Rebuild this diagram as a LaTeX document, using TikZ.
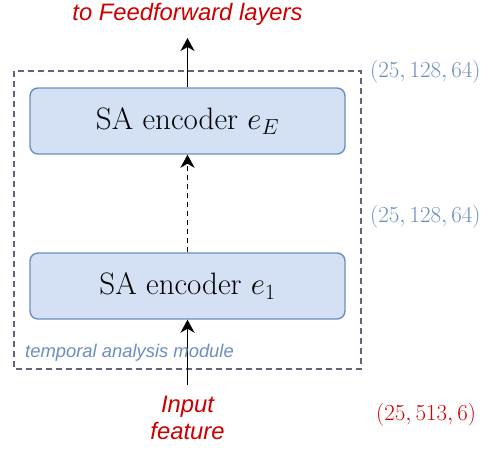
\RequirePackage{fix-cm}
\documentclass[tikz,border=0pt]{standalone}
\usepackage{fontspec}
\newfontfamily\arialfont{Liberation Sans}
\usetikzlibrary{arrows.meta}
\definecolor{boxfill}{HTML}{D4E1F5}
\definecolor{boxdraw}{HTML}{6C8EBF}
\definecolor{labblue}{HTML}{6C8EBF}
\definecolor{labred}{HTML}{CC0000}
\definecolor{modframe}{HTML}{6E5E7E}
\tikzset{
  encbox/.style={draw=boxdraw, fill=boxfill, line width=1.4pt, rounded corners=8pt,
    minimum width=315pt, minimum height=66pt, inner sep=0pt,
    font=\fontsize{31}{36}\selectfont},
  conn/.style={line width=1.8pt, -{Stealth[length=13pt,width=14pt,inset=4pt]}},
  redtxt/.style={text=labred, font=\arialfont\itshape\fontsize{23.8}{27}\selectfont, align=center, inner sep=0pt},
  dimlab/.style={anchor=west, inner sep=0pt, font=\fontsize{23}{27}\selectfont},
}
\begin{document}
\begin{tikzpicture}[x=1pt,y=-1pt]
\useasboundingbox (0,0) rectangle (482,448);
\draw[modframe, line width=1.3pt, dash pattern=on 6pt off 4pt] (14,71) rectangle (361,369);
\node[encbox] (eE) at (187.5,121) {SA encoder $e_E$};
\node[encbox] (e1) at (187.5,286) {SA encoder $e_1$};
\node[redtxt] (out) at (187.5,14) {to Feedforward layers};
\coordinate (outend) at (187.5,38);
\node[redtxt] (inp) at (187.5,418) {Input\\feature};
\coordinate (instart) at (187.5,385);
\draw[conn] (eE.north) -- (outend);
\draw[conn, dash pattern=on 5pt off 4pt] (e1.north) -- (eE.south);
\draw[conn] (instart) -- (e1.south);
\node[anchor=west, inner sep=0pt, text=labblue, font=\arialfont\itshape\fontsize{18.4}{21}\selectfont] (mod) at (25,353) {temporal analysis module};
\node[dimlab, text=labblue] (d1) at (370,72) {$(25,128,64)$};
\node[dimlab, text=labblue] (d2) at (370,217) {$(25,128,64)$};
\node[dimlab, text=labred] (d3) at (376,415) {$(25,513,6)$};
\end{tikzpicture}
\end{document}
